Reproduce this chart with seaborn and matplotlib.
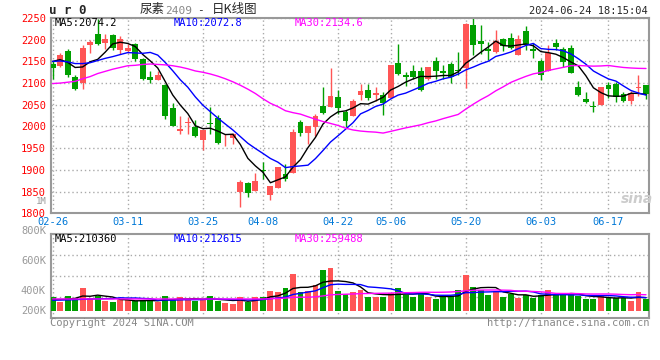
import matplotlib
matplotlib.use("Agg")
import matplotlib.pyplot as plt
import numpy as np
import pandas as pd
import seaborn as sns

# daily bars, 2024-02-26 .. 2024-06-24 (80 trading days)
opens = [2145, 2139, 2175, 2113, 2100, 2188, 2214, 2192, 2210, 2177,
         2174, 2189, 2156, 2115, 2108, 2095, 2042, 1989, 2008, 1998,
         1968, 2008, 2019, 1968, 1973, 1849, 1870, 1852, 1900, 1843,
         1858, 1891, 1893, 2010, 1985, 1999, 2048, 2045, 2069, 2033,
         2024, 2072, 2083, 2072, 2073, 2065, 2147, 2119, 2129, 2129,
         2110, 2150, 2129, 2145, 2131, 2134, 2235, 2196, 2179, 2172,
         2201, 2205, 2165, 2219, 2179, 2150, 2127, 2192, 2179, 2182,
         2091, 2064, 2048, 2050, 2095, 2098, 2075, 2058, 2088, 2095]
highs = [2152, 2169, 2179, 2118, 2187, 2200, 2248, 2212, 2214, 2208,
         2191, 2193, 2158, 2129, 2129, 2097, 2055, 2025, 2022, 2014,
         1991, 2045, 2027, 1983, 1985, 1876, 1872, 1892, 1918, 1864,
         1906, 1914, 1995, 2014, 2000, 2029, 2092, 2135, 2083, 2039,
         2064, 2097, 2097, 2091, 2079, 2141, 2189, 2125, 2142, 2137,
         2138, 2160, 2141, 2148, 2171, 2238, 2250, 2235, 2195, 2222,
         2204, 2216, 2210, 2231, 2193, 2155, 2188, 2202, 2183, 2187,
         2104, 2079, 2058, 2092, 2102, 2102, 2079, 2081, 2118, 2095]
lows = [2110, 2137, 2114, 2083, 2087, 2169, 2188, 2179, 2177, 2168,
        2169, 2152, 2108, 2100, 2106, 2018, 2000, 1983, 1983, 1975,
        1945, 1983, 1960, 1955, 1960, 1814, 1837, 1852, 1879, 1831,
        1858, 1874, 1893, 1978, 1960, 1978, 2028, 2045, 2029, 1999,
        2024, 2060, 2062, 2058, 2027, 2065, 2119, 2093, 2110, 2082,
        2108, 2110, 2110, 2100, 2118, 2088, 2164, 2166, 2154, 2170,
        2173, 2179, 2164, 2177, 2158, 2108, 2127, 2177, 2137, 2124,
        2070, 2054, 2033, 2050, 2065, 2056, 2056, 2052, 2070, 2064]
closes = [2135, 2164, 2119, 2087, 2181, 2195, 2191, 2202, 2182, 2201,
          2181, 2156, 2110, 2108, 2119, 2025, 2000, 1995, 2010, 1979,
          1991, 2005, 1962, 1970, 1983, 1872, 1846, 1875, 1897, 1862,
          1906, 1879, 1987, 1985, 2000, 2024, 2032, 2070, 2042, 2012,
          2058, 2081, 2065, 2078, 2055, 2141, 2122, 2115, 2115, 2085,
          2138, 2127, 2123, 2114, 2128, 2237, 2187, 2189, 2175, 2196,
          2185, 2182, 2201, 2187, 2175, 2118, 2170, 2183, 2148, 2124,
          2073, 2056, 2045, 2092, 2087, 2068, 2058, 2078, 2090, 2076]
# volume, thousands of lots
volumes_k = [222, 146, 243, 211, 368, 201, 238, 162, 141, 168,
             168, 162, 168, 162, 141, 238, 190, 222, 168, 162,
             190, 238, 162, 125, 113, 222, 146, 222, 222, 314,
             298, 368, 599, 308, 324, 416, 659, 697, 319, 271,
             303, 335, 227, 227, 215, 287, 368, 249, 227, 287,
             227, 194, 215, 233, 335, 583, 384, 330, 254, 324,
             227, 275, 206, 254, 206, 259, 335, 249, 275, 275,
             233, 185, 185, 249, 206, 201, 206, 162, 303, 185]

# moving-average values before enough bars exist
ma5_head = [2150, 2154, 2148, 2136]
ma10_head = [2150, 2151, 2149, 2145, 2145, 2147, 2152, 2157, 2161]
ma30_head = [2099, 2100, 2102, 2104, 2110, 2115, 2122, 2127, 2132, 2136,
             2140, 2141, 2143, 2144, 2143, 2142, 2140, 2137, 2133, 2128,
             2125, 2121, 2116, 2110, 2103, 2095, 2086, 2076, 2064]
vma5_head = [180, 182, 185, 200]
vma10_head = [170, 172, 175, 178, 185, 188, 192, 195, 196]
vma30_head = [190] * 29

tick_idx = [0, 10, 20, 28, 38, 45, 55, 65, 74]
tick_labels = ['02-26', '03-11', '03-25', '04-08', '04-22',
               '05-06', '05-20', '06-03', '06-17']
price_ticks = [1800, 1850, 1900, 1950, 2000, 2050, 2100, 2150, 2200, 2250]
price_legend = ['MA5:2074.2', 'MA10:2072.8', 'MA30:2134.6']
vol_legend = ['MA5:210360', 'MA10:212615', 'MA30:259488']
vol_labels = ['800K', '600K', '400K', '200K']

RED = '#ff5555'
GREEN = '#009f00'
GRID = '#aaaaaa'
BORDER = '#999999'
MA_COLORS = ['black', '#0000ff', '#ff00ff']


def moving(values, n, head):
    ma = pd.Series(values, dtype=float).rolling(n).mean().to_numpy()
    ma[:len(head)] = head
    return ma


opens = np.array(opens)
closes = np.array(closes)
x = np.arange(len(closes))
up = closes >= opens
cols = np.where(up, RED, GREEN)
vol = np.array(volumes_k) * 1000

price_ma = [moving(closes, 5, ma5_head), moving(closes, 10, ma10_head),
            moving(closes, 30, ma30_head)]
vol_ma = [moving(vol, 5, np.array(vma5_head) * 1000),
          moving(vol, 10, np.array(vma10_head) * 1000),
          moving(vol, 30, np.array(vma30_head) * 1000)]

sns.set_style('white')
plt.rcParams['font.family'] = ['DejaVu Sans Mono', 'Noto Sans CJK SC']

W, H = 660, 360
fig = plt.figure(figsize=(6.6, 3.6), dpi=100)
ax = fig.add_axes([50.7 / W, 1 - 213.3 / H, 598.3 / W, 195.3 / H])
axv = fig.add_axes([50.7 / W, 1 - 317.7 / H, 598.3 / W, 83.7 / H])

# candles
ax.vlines(x, lows, highs, colors=cols, lw=1, zorder=2)
body_lo = np.minimum(opens, closes)
body_h = np.maximum(np.abs(closes - opens), 2)
ax.bar(x, body_h, bottom=body_lo, width=0.78, color=cols, linewidth=0, zorder=3)
for ma, c in zip(price_ma, MA_COLORS):
    sns.lineplot(x=x, y=ma, color=c, lw=1, ax=ax, zorder=4)

# volume
axv.bar(x, vol, width=0.78, color=cols, linewidth=0, zorder=3)
for ma, c in zip(vol_ma, MA_COLORS):
    sns.lineplot(x=x, y=ma, color=c, lw=1, ax=axv, zorder=4)

dots = (0, (1, 2))
for a in (ax, axv):
    a.set_xlim(-0.25, 79.4)
    a.set_xticks(tick_idx)
    a.grid(True, linestyle=dots, color=GRID, lw=1)
    a.tick_params(length=0)
    for s in a.spines.values():
        s.set_color(BORDER)
        s.set_linewidth(1.5)

ax.set_ylim(1800, 2250)
ax.set_yticks(price_ticks)
ax.set_yticklabels([str(v) for v in price_ticks], color='red', fontsize=7.5)
ax.tick_params(axis='y', pad=3.4)
ax.set_xticklabels(tick_labels, color='#0078d7', fontsize=7.5)
ax.tick_params(axis='x', pad=2.6)

vlo, vhi = -113400, 1242500
axv.set_ylim(vlo, vhi)
axv.set_yticks([vlo + k * (vhi - vlo) / 4 for k in (1, 2, 3)])
axv.set_yticklabels([])
axv.set_xticklabels([])
for lab, yf in zip(vol_labels, [1.04, 0.68, 0.323, 0.084]):
    axv.text(-0.008, yf, lab, transform=axv.transAxes, ha='right', va='center',
             color='#999999', fontsize=7.5)

# legends
for txt, xp, c in zip(price_legend, [55, 174, 295], MA_COLORS):
    fig.text(xp / W, 1 - 23.3 / H, txt, color=c, fontsize=7.5, va='center')
for txt, xp, c in zip(vol_legend, [55, 174, 295], MA_COLORS):
    fig.text(xp / W, 1 - 238.5 / H, txt, color=c, fontsize=7.5, va='center')

# header
fig.text(49 / W, 1 - 11 / H, 'u r 0', fontsize=9, fontweight='bold', va='center')
fig.text(140 / W, 1 - 10 / H, '尿素', fontsize=9, family='Noto Sans CJK SC', va='center')
fig.text(165 / W, 1 - 10.5 / H, '2409', fontsize=8, color='#888888', va='center')
fig.text(197 / W, 1 - 10.5 / H, '-', fontsize=8, va='center')
fig.text(212 / W, 1 - 10 / H, '日K线图', fontsize=9, family='Noto Sans CJK SC', va='center')
fig.text(648 / W, 1 - 11 / H, '2024-06-24 18:15:04', fontsize=7.5, ha='right', va='center')

fig.text(46.5 / W, 1 - 201.5 / H, '1M', fontsize=6.5, color='#999999', ha='right', va='center')
fig.text(637 / W, 1 - 199 / H, 'sina', fontsize=10, fontweight='bold', style='italic',
         color='#cccccc', ha='center', va='center', family='DejaVu Sans')

# footer
fig.text(50 / W, 1 - 323.5 / H, 'Copyright 2024 SINA.COM', fontsize=7.5, color='#888888', va='center')
fig.text(649 / W, 1 - 323.5 / H, 'http://finance.sina.com.cn', fontsize=7.5, color='#888888',
         ha='right', va='center')

fig.savefig('out.png', dpi=100, facecolor='white')
